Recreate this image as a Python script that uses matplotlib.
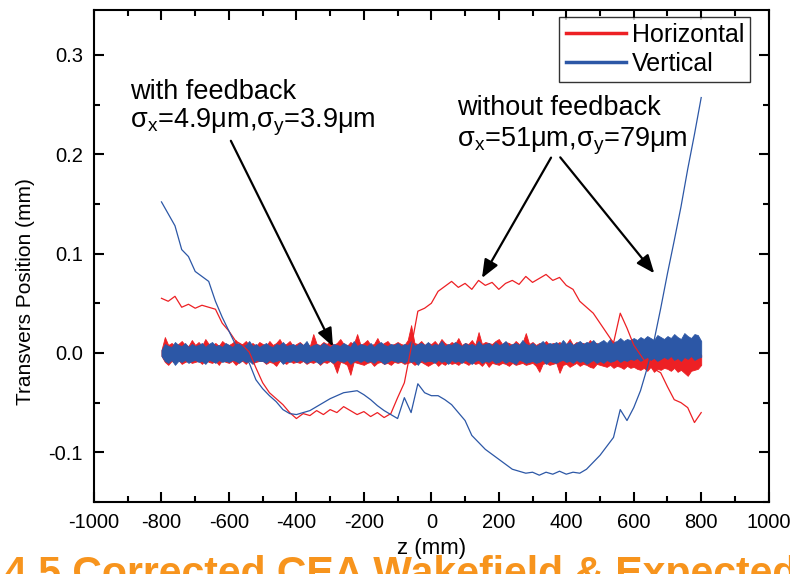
import numpy as np
import matplotlib
matplotlib.use("Agg")
import matplotlib.pyplot as plt
from matplotlib.ticker import MultipleLocator

plt.rcParams['font.family'] = ['Liberation Sans', 'DejaVu Sans']
plt.rcParams['mathtext.fontset'] = 'custom'
plt.rcParams['mathtext.rm'] = 'Liberation Sans'
plt.rcParams['mathtext.it'] = 'Liberation Sans:italic'

RED = '#ED2024'
BLUE = '#2C57A6'

# ---- data: with feedback, noise envelopes (z = -800..800 step 10), in 1e-3 mm
z_fb = list(range(-800, 801, 10))
blue_fb_hi = [3, 9, 7, 6, 11, 8, 7, 10, 6, 9,
              7, 8, 10, 6, 9, 11, 7, 8, 6, 10,
              8, 6, 9, 10, 7, 8, 12, 7, 9, 6,
              8, 10, 7, 6, 9, 8, 11, 7, 8, 9,
              7, 10, 8, 12, 6, 8, 9, 7, 10, 8,
              6, 9, 8, 7, 10, 8, 6, 12, 7, 9,
              8, 7, 10, 6, 9, 11, 8, 7, 9, 8,
              10, 7, 9, 8, 12, 7, 9, 10, 8, 11,
              7, 9, 8, 12, 7, 9, 8, 11, 9, 7,
              10, 8, 9, 7, 12, 8, 9, 10, 7, 11,
              8, 9, 12, 7, 9, 10, 8, 13, 9, 8,
              10, 7, 9, 12, 8, 10, 9, 11, 8, 13,
              9, 11, 8, 10, 12, 9, 11, 10, 13, 9,
              11, 13, 10, 14, 11, 12, 15, 12, 14, 13,
              15, 13, 16, 14, 17, 15, 13, 18, 16, 14,
              17, 15, 19, 16, 14, 20, 17, 15, 19, 18,
              12]
blue_fb_lo = [-3, -8, -10, -7, -12, -8, -9, -7, -10, -8,
              -7, -9, -8, -11, -7, -8, -10, -7, -9, -8,
              -9, -7, -8, -10, -7, -9, -8, -11, -7, -8,
              -8, -10, -7, -9, -8, -7, -11, -8, -9, -7,
              -9, -7, -8, -10, -8, -7, -9, -11, -8, -7,
              -8, -10, -7, -8, -9, -7, -11, -8, -7, -9,
              -7, -9, -8, -10, -7, -8, -11, -9, -7, -8,
              -9, -8, -10, -7, -9, -8, -12, -7, -9, -8,
              -8, -10, -7, -9, -8, -11, -7, -9, -8, -10,
              -7, -9, -11, -8, -7, -10, -8, -9, -7, -10,
              -9, -7, -10, -8, -9, -11, -7, -8, -10, -9,
              -8, -10, -9, -7, -11, -8, -9, -10, -8, -7,
              -9, -8, -10, -7, -9, -8, -11, -9, -7, -10,
              -8, -10, -7, -9, -8, -6, -9, -7, -8, -6,
              -7, -5, -8, -6, -4, -7, -5, -8, -6, -4,
              -6, -3, -7, -5, -8, -4, -6, -3, -7, -5,
              -4]
red_fb_hi = [3, 16, 8, 10, 7, 9, 12, 8, 7, 13,
             8, 11, 7, 14, 9, 8, 10, 7, 12, 9,
             8, 10, 13, 7, 9, 12, 8, 10, 7, 11,
             9, 7, 12, 8, 10, 14, 8, 9, 12, 7,
             9, 11, 8, 10, 7, 19, 9, 8, 11, 9,
             12, 8, 10, 14, 9, 7, 11, 9, 19, 8,
             10, 13, 8, 9, 15, 8, 10, 12, 8, 9,
             11, 9, 8, 13, 28, 10, 9, 12, 8, 10,
             9, 12, 8, 14, 10, 8, 11, 9, 15, 8,
             10, 9, 13, 8, 21, 9, 11, 10, 9, 12,
             14, 9, 11, 10, 8, 12, 9, 10, 20, 9,
             11, 8, 10, 9, 12, 8, 10, 9, 11, 8,
             9, 14, 8, 11, 9, 10, 8, 13, 9, 10,
             8, 12, 7, 9, 8, 11, 6, 9, 5, 7,
             4, 8, 3, 6, 2, 7, 3, 5, 2, 6,
             3, 5, 2, 6, 1, 4, 0, 3, 1, 2,
             -2]
red_fb_lo = [-3, -9, -12, -8, -10, -7, -11, -9, -8, -10,
             -9, -8, -11, -7, -9, -10, -8, -12, -7, -9,
             -10, -8, -12, -9, -8, -11, -7, -10, -9, -8,
             -8, -11, -9, -10, -13, -8, -9, -11, -8, -10,
             -9, -10, -8, -11, -9, -10, -8, -12, -9, -10,
             -8, -11, -20, -9, -10, -12, -22, -9, -10, -11,
             -12, -10, -9, -13, -10, -9, -11, -10, -12, -9,
             -10, -9, -11, -10, -9, -12, -10, -9, -11, -13,
             -11, -9, -13, -10, -12, -9, -11, -10, -12, -9,
             -10, -12, -9, -11, -10, -13, -9, -14, -10, -11,
             -12, -10, -11, -13, -10, -12, -11, -10, -12, -11,
             -10, -13, -19, -11, -10, -12, -11, -10, -20, -12,
             -11, -14, -12, -10, -13, -11, -12, -14, -15, -11,
             -12, -13, -14, -12, -15, -13, -14, -16, -13, -15,
             -14, -16, -17, -15, -18, -14, -19, -16, -17, -15,
             -16, -18, -15, -19, -17, -20, -23, -18, -17, -16,
             -12]

# ---- data: without feedback (z = -800..800 step 20), values in mm
z_nofb = list(range(-800, 801, 20))
red_nofb = [0.055, 0.052, 0.057, 0.046, 0.049, 0.045, 0.048, 0.046, 0.044, 0.030,
            0.022, 0.012, 0.008, 0.001, -0.015, -0.030, -0.040, -0.046, -0.052, -0.060,
            -0.066, -0.061, -0.063, -0.058, -0.062, -0.057, -0.060, -0.054, -0.058, -0.062,
            -0.059, -0.064, -0.060, -0.065, -0.061, -0.045, -0.030, 0.005, 0.042, 0.045,
            0.050, 0.062, 0.067, 0.072, 0.066, 0.070, 0.064, 0.073, 0.068, 0.071,
            0.064, 0.070, 0.073, 0.069, 0.077, 0.071, 0.075, 0.079, 0.073, 0.076,
            0.068, 0.064, 0.052, 0.046, 0.040, 0.030, 0.020, 0.010, 0.040, 0.025,
            0.008, -0.002, -0.012, -0.016, -0.020, -0.034, -0.047, -0.050, -0.055, -0.070,
            -0.060]
blue_nofb = [0.152, 0.140, 0.128, 0.104, 0.097, 0.082, 0.077, 0.072, 0.052, 0.036,
             0.022, 0.008, -0.003, -0.010, -0.027, -0.036, -0.043, -0.049, -0.057, -0.061,
             -0.062, -0.060, -0.058, -0.054, -0.050, -0.046, -0.043, -0.040, -0.039, -0.038,
             -0.042, -0.047, -0.053, -0.058, -0.062, -0.066, -0.045, -0.060, -0.031, -0.040,
             -0.043, -0.043, -0.047, -0.052, -0.060, -0.068, -0.083, -0.090, -0.097, -0.102,
             -0.107, -0.112, -0.117, -0.119, -0.121, -0.120, -0.123, -0.120, -0.122, -0.119,
             -0.122, -0.120, -0.121, -0.117, -0.110, -0.103, -0.094, -0.085, -0.057, -0.068,
             -0.055, -0.038, -0.015, 0.012, 0.045, 0.080, 0.113, 0.147, 0.185, 0.220,
             0.257]

xticks = [-1000, -800, -600, -400, -200, 0, 200, 400, 600, 800, 1000]
yticks = [-0.1, 0.0, 0.1, 0.2, 0.3]

def mm(a):
    return np.array(a) / 1000.0

fig = plt.figure(figsize=(7.9, 5.74), dpi=100)
ax = fig.add_axes([0.119, 0.1254, 0.854, 0.857])

ax.fill_between(z_fb, mm(red_fb_lo), mm(red_fb_hi), facecolor=RED, edgecolor=RED, lw=0.6)
ax.fill_between(z_fb, mm(blue_fb_lo), mm(blue_fb_hi), facecolor=BLUE, edgecolor=BLUE, lw=0.6)

ax.plot(z_nofb, red_nofb, color=RED, lw=0.9, label='Horizontal')
ax.plot(z_nofb, blue_nofb, color=BLUE, lw=0.9, label='Vertical')

ax.set_xlim(-1000, 1000)
ax.set_ylim(-0.15, 0.345)
ax.set_xticks(xticks)
ax.set_yticks(yticks)
ax.set_xticklabels([str(v) for v in xticks])
ax.set_yticklabels(['%.1f' % v for v in yticks])
ax.xaxis.set_minor_locator(MultipleLocator(100))
ax.yaxis.set_minor_locator(MultipleLocator(0.05))
ax.tick_params(which='both', direction='in', top=True, right=True, width=1.5, labelsize=14.5)
ax.tick_params(which='major', length=7, pad=8)
ax.tick_params(which='minor', length=4)
for s in ax.spines.values():
    s.set_linewidth(1.5)

ax.set_xlabel('z (mm)', fontsize=16, labelpad=4)
ax.set_ylabel('Transvers Position (mm)', fontsize=15)
ax.yaxis.set_label_coords(-0.088, 0.427)

leg = ax.legend(loc='upper right', bbox_to_anchor=(0.973, 0.986), borderaxespad=0,
                fontsize=18, frameon=True, fancybox=False,
                edgecolor='black', handlelength=2.4, handletextpad=0.25,
                borderpad=0.25, labelspacing=0.2)
leg.get_frame().set_linewidth(1.0)
for h in leg.get_lines():
    h.set_linewidth(2.5)

ax.text(-894, 0.256, 'with feedback', fontsize=19.5, ha='left', va='baseline')
ax.text(-894, 0.227, r'$\mathrm{\sigma_x}$=4.9$\mathrm{\mu}$m,$\mathrm{\sigma_y}$=3.9$\mathrm{\mu}$m',
        fontsize=19.5, ha='left', va='baseline')
ax.text(75, 0.239, 'without feedback', fontsize=19.5, ha='left', va='baseline')
ax.text(75, 0.208, r'$\mathrm{\sigma_x}$=51$\mathrm{\mu}$m,$\mathrm{\sigma_y}$=79$\mathrm{\mu}$m',
        fontsize=19.5, ha='left', va='baseline')

aprops = dict(arrowstyle='-|>,head_length=1.1,head_width=0.45', color='black', lw=1.6)
ax.annotate('', xy=(-288, 0.004), xytext=(-598, 0.216), arrowprops=aprops)
ax.annotate('', xy=(146, 0.073), xytext=(359, 0.199), arrowprops=aprops)
ax.annotate('', xy=(666, 0.078), xytext=(377, 0.199), arrowprops=aprops)

fig.text(0.005, -0.02, '4.5 Corrected CEA Wakefield & Expected Result',
         color='#F7941D', fontsize=29.5, fontweight='bold', ha='left', va='baseline', zorder=0)

fig.savefig('out.png', dpi=100)
